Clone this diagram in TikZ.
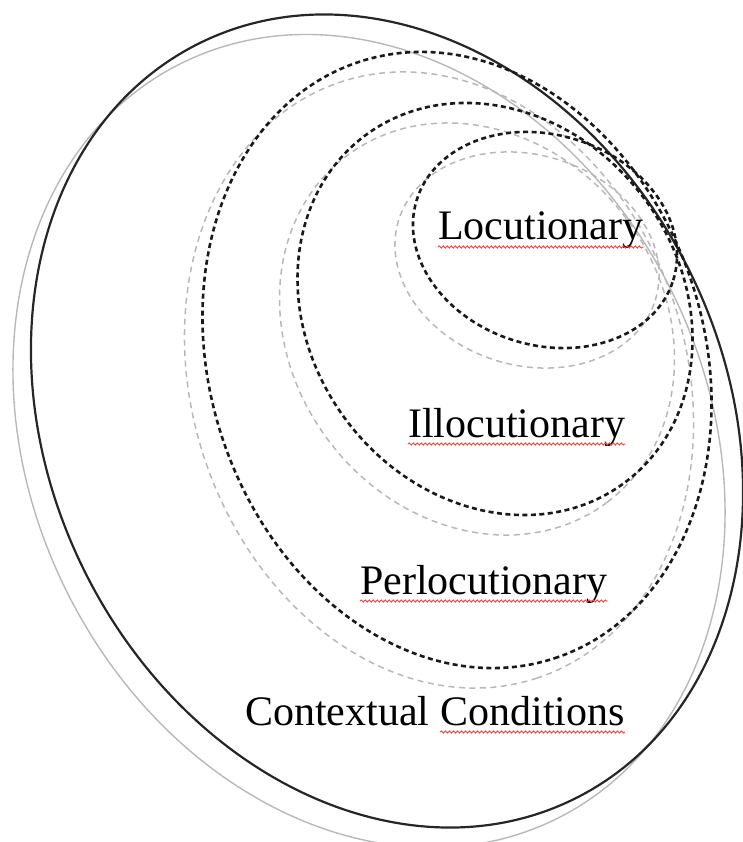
\documentclass[tikz,border=0pt]{standalone}
\usepackage{fontspec}
\setmainfont{Liberation Serif}
\usepackage{tikz}
\usetikzlibrary{positioning,decorations.pathmorphing}
\tikzset{
  rim/.style={line width=2.2pt, draw=black!85},
  rimshade/.style={line width=1.4pt, draw=black!28},
  ring/.style={line width=2.6pt, draw=black!90, dash pattern=on 5pt off 3.5pt},
  ringshade/.style={line width=1.5pt, draw=black!28, dash pattern=on 6pt off 4.5pt},
  lbl/.style={font=\fontsize{42}{48}\selectfont, inner sep=0pt, anchor=base west},
  squig/.style={draw=red!75, line width=0.9pt, decorate, decoration={snake, amplitude=1.1pt, segment length=4pt}}}
\begin{document}
\begin{tikzpicture}[x=1pt, y=-1pt]
  \useasboundingbox (0,0) rectangle (743,842);
  % contextual conditions: solid oval with its light shadow
  \draw[rimshade, shift={(-18,20)}, rotate around={-63.5:(387,421)}] (387,421) ellipse [x radius=421.8pt, y radius=337.7pt];
  \draw[rim, rotate around={-63.5:(387,421)}] (387,421) ellipse [x radius=421.8pt, y radius=337.7pt];
  % perlocutionary, illocutionary, locutionary
  \foreach \c/\a/\rx/\ry in {{457,360}/-71.9/313.8/247.3, {495,309}/-53/216.7/185.7, {545,240}/-17.4/134.4/105.1} {
    \draw[ringshade, shift={(-18,20)}, rotate around={\a:(\c)}] (\c) ellipse [x radius=\rx pt, y radius=\ry pt];
    \draw[ring, rotate around={\a:(\c)}] (\c) ellipse [x radius=\rx pt, y radius=\ry pt];}
  \node[lbl] (loc) at (438,240) {Locutionary};
  \node[lbl] (illoc) at (408,437) {Illocutionary};
  \node[lbl] (perloc) at (360,594) {Perlocutionary};
  \node[lbl] (ctx) at (245,725) {Contextual};
  \node[lbl, base right=10.5pt of ctx] (cond) {Conditions};
  \foreach \n in {loc,illoc,perloc,cond} {\draw[squig] ([yshift=-7pt]\n.base west) -- ([yshift=-7pt]\n.base east);}
\end{tikzpicture}
\end{document}
